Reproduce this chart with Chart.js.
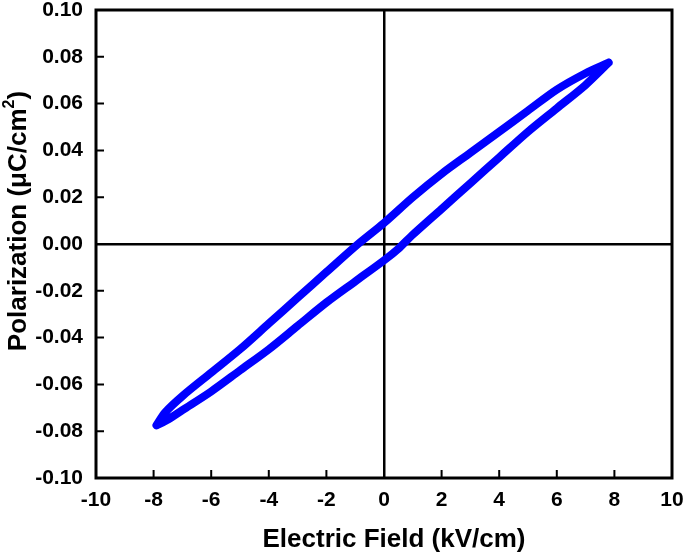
<!DOCTYPE html>
<html>
<head>
<meta charset="utf-8">
<script src="https://cdn.jsdelivr.net/npm/chart.js"></script>
<style>
  html, body { margin: 0; padding: 0; background: #fff; }
  #wrap { width: 685px; height: 555px; }
</style>
</head>
<body>
<div id="wrap"><canvas id="loop"></canvas></div>
<script>
// upper branch: field swept down from +E max to -E max
const upperField = [7.8, 7.0, 6.0, 5.0, 4.0, 3.0, 2.0, 1.0, 0.0, -0.9, -2.0, -3.0, -4.0, -5.0, -6.0, -7.0, -7.6, -7.9];
const upperPol = [0.0775, 0.073, 0.066, 0.057, 0.048, 0.039, 0.030, 0.020, 0.009, 0.000, -0.012, -0.023, -0.034, -0.045, -0.055, -0.065, -0.072, -0.0775];
// lower branch: field swept back up
const lowerField = [-7.9, -7.5, -7.0, -6.0, -5.0, -4.0, -3.0, -2.0, -1.0, 0.0, 0.5, 1.0, 2.0, 3.0, 4.0, 5.0, 6.0, 7.0, 7.8];
const lowerPol = [-0.0775, -0.075, -0.071, -0.063, -0.054, -0.045, -0.035, -0.025, -0.016, -0.007, -0.002, 0.004, 0.015, 0.026, 0.037, 0.048, 0.058, 0.068, 0.0775];

const xTicks = [-10, -8, -6, -4, -2, 0, 2, 4, 6, 8, 10];
const yTicks = [-0.10, -0.08, -0.06, -0.04, -0.02, 0.00, 0.02, 0.04, 0.06, 0.08, 0.10];

const xTitle = 'Electric Field (kV/cm)';
const yTitle = ['Polarization (\u03bcC/cm', '2', ')'];

const points = [];
upperField.forEach((e, i) => points.push({ x: e, y: upperPol[i] }));
lowerField.forEach((e, i) => points.push({ x: e, y: lowerPol[i] }));

const FONT = 'Liberation Sans, Arial, sans-serif';

// frame on top/right, inward tick marks on left/bottom, axis titles
const framePlugin = {
  id: 'frame',
  afterDraw(chart) {
    const { ctx, chartArea: a, scales } = chart;
    ctx.save();
    ctx.strokeStyle = '#000';
    ctx.lineWidth = 3;
    ctx.strokeRect(a.left, a.top, a.right - a.left, a.bottom - a.top);
    ctx.lineWidth = 2;
    ctx.beginPath();
    xTicks.forEach(v => {
      const px = scales.x.getPixelForValue(v);
      ctx.moveTo(px, a.bottom);
      ctx.lineTo(px, a.bottom - 8);
    });
    yTicks.forEach(v => {
      const py = scales.y.getPixelForValue(v);
      ctx.moveTo(a.left, py);
      ctx.lineTo(a.left + 8, py);
    });
    ctx.stroke();

    // x title
    ctx.fillStyle = '#000';
    ctx.font = 'bold 26px ' + FONT;
    ctx.textAlign = 'center';
    ctx.textBaseline = 'middle';
    ctx.fillText(xTitle, 394, 540);

    // y title with superscript, rotated
    ctx.translate(19, 221);
    ctx.rotate(-Math.PI / 2);
    ctx.textAlign = 'left';
    ctx.font = 'bold 26px ' + FONT;
    const w0 = ctx.measureText(yTitle[0]).width;
    ctx.font = 'bold 16px ' + FONT;
    const w1 = ctx.measureText(yTitle[1]).width;
    ctx.font = 'bold 26px ' + FONT;
    const w2 = ctx.measureText(yTitle[2]).width;
    let x = -(w0 + w1 + w2) / 2;
    ctx.fillText(yTitle[0], x, 0);
    x += w0;
    ctx.font = 'bold 16px ' + FONT;
    ctx.fillText(yTitle[1], x, -9);
    x += w1;
    ctx.font = 'bold 26px ' + FONT;
    ctx.fillText(yTitle[2], x, 0);
    ctx.restore();
  }
};

const zeroLine = ctx => (Math.abs(ctx.tick.value) < 1e-9 ? '#000' : 'rgba(0,0,0,0)');
const tickFont = { family: FONT, size: 21, weight: 'bold' };

new Chart(document.getElementById('loop'), {
  type: 'scatter',
  data: {
    datasets: [{
      data: points,
      showLine: true,
      borderColor: '#0000ff',
      backgroundColor: '#0000ff',
      borderWidth: 8,
      pointRadius: 0,
      tension: 0.3,
      borderCapStyle: 'round',
      borderJoinStyle: 'round'
    }]
  },
  options: {
    responsive: true,
    maintainAspectRatio: false,
    animation: false,
    layout: { padding: { top: 10, right: 13, left: 0, bottom: 0 } },
    plugins: { legend: { display: false }, tooltip: { enabled: false } },
    scales: {
      x: {
        type: 'linear',
        min: -10, max: 10,
        afterBuildTicks: s => { s.ticks = xTicks.map(v => ({ value: v })); },
        afterFit: s => { s.height = 77; s.paddingLeft = 0; s.paddingRight = 0; },
        border: { display: false },
        grid: { drawTicks: false, color: zeroLine, lineWidth: 2.5 },
        ticks: { color: '#000', padding: 10, font: tickFont, callback: v => String(v) },
        title: { display: false }
      },
      y: {
        type: 'linear',
        min: -0.1, max: 0.1,
        afterBuildTicks: s => { s.ticks = yTicks.map(v => ({ value: v })); },
        afterFit: s => { s.width = 96; s.paddingTop = 0; s.paddingBottom = 0; },
        border: { display: false },
        grid: { drawTicks: false, color: zeroLine, lineWidth: 2.5 },
        ticks: { color: '#000', padding: 13, font: tickFont, callback: v => Number(v).toFixed(2) },
        title: { display: false }
      }
    }
  },
  plugins: [framePlugin]
});
</script>
</body>
</html>
